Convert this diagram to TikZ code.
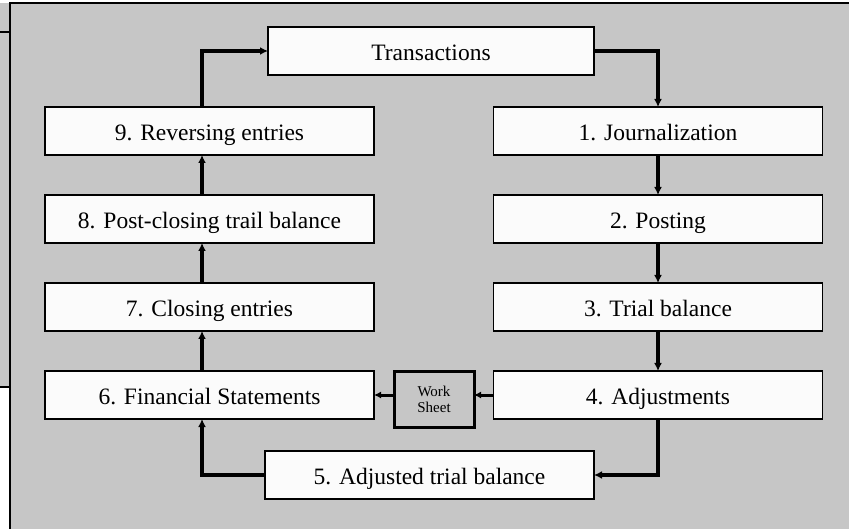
\documentclass[tikz,border=0pt]{standalone}
\usepackage{fontspec}
\setmainfont{Liberation Serif}
\usetikzlibrary{arrows.meta,positioning,calc}

\definecolor{panel}{RGB}{198,198,198}
\definecolor{boxfill}{RGB}{251,251,251}

\tikzset{
  stepbox/.style={draw,line width=1.3pt,fill=boxfill,minimum width=329pt,minimum height=48pt,
    inner sep=0pt,outer sep=0pt,text height=19pt,text depth=0pt,font=\fontsize{23.5}{27}\selectfont},
  sheetbox/.style={draw,line width=3pt,fill=panel,minimum width=80pt,minimum height=55pt,
    inner sep=0pt,outer sep=0pt,align=center,font=\fontsize{15}{18}\selectfont},
  flow/.style={line width=3.8pt,-{Latex[length=8pt,width=8pt]}},
  thinflow/.style={line width=3pt,-{Latex[length=7pt,width=7pt]}}
}

\begin{document}
\begin{tikzpicture}[x=1pt,y=-1pt]
  \useasboundingbox (0,0) rectangle (849,529);
  \clip (0,0) rectangle (849,529);
  % background panel
  \fill[panel] (0,3) rectangle (10,387);
  \draw[line width=2.5pt] (0,32)--(10,32); \draw[line width=2.5pt] (0,387)--(10,387);
  \draw[fill=panel,line width=1.5pt] (10,3) rectangle (870,560);
  % cycle steps
  \node[stepbox,minimum width=326pt] (trans) at (431,51) {Transactions};
  \node[stepbox] (b1) at (658,131) {1. Journalization};
  \node[stepbox] (b2) at (658,219) {2. Posting};
  \node[stepbox] (b3) at (658,307) {3. Trial balance};
  \node[stepbox] (b4) at (658,395) {4. Adjustments};
  \node[stepbox] (b5) at (429.5,475) {5. Adjusted trial balance};
  \node[stepbox] (b6) at (209.5,395) {6. Financial Statements};
  \node[stepbox] (b7) at (209.5,307) {7. Closing entries};
  \node[stepbox] (b8) at (209.5,219) {8. Post-closing trail balance};
  \node[stepbox] (b9) at (209.5,131) {9. Reversing entries};
  \node[sheetbox] (ws) at (434,399.5) {Work\\[-2pt]Sheet};
  % right side, going down
  \draw[flow] (trans.east) -| (b1.north);
  \draw[flow] (b1.south) -- (b2.north);
  \draw[flow] (b2.south) -- (b3.north);
  \draw[flow] (b3.south) -- (b4.north);
  \draw[flow] (b4.south) |- (b5.east);
  % work sheet
  \draw[thinflow] (b4.west) -- (b4.west -| ws.east);
  \draw[thinflow] (ws.west |- b6.east) -- (b6.east);
  % left side, going up
  \draw[flow] (b5.west) -| ([xshift=-7.5pt]b6.south);
  \draw[flow] ([xshift=-7.5pt]b6.north) -- ([xshift=-7.5pt]b7.south);
  \draw[flow] ([xshift=-7.5pt]b7.north) -- ([xshift=-7.5pt]b8.south);
  \draw[flow] ([xshift=-7.5pt]b8.north) -- ([xshift=-7.5pt]b9.south);
  \draw[flow] ([xshift=-7.5pt]b9.north) |- (trans.west);
\end{tikzpicture}
\end{document}
